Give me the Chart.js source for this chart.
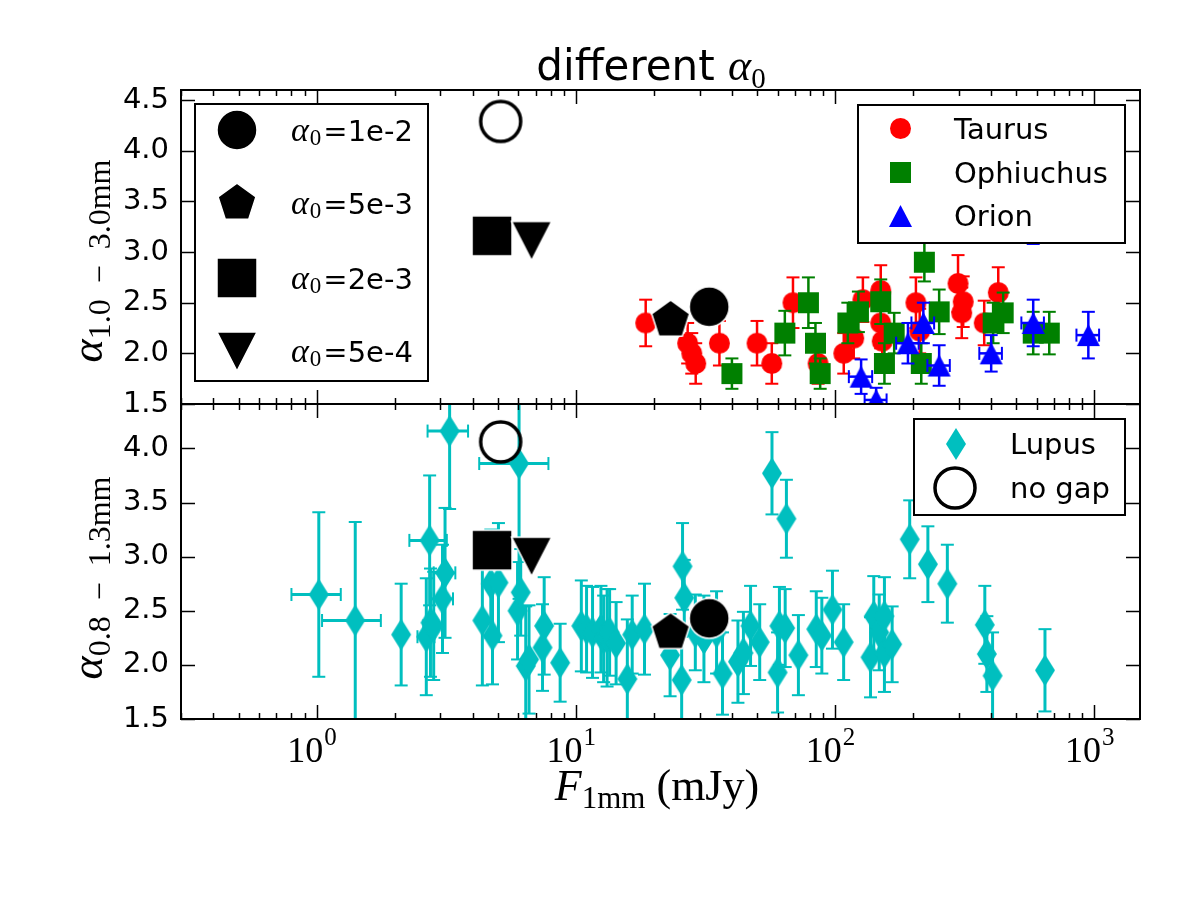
<!DOCTYPE html>
<html>
<head>
<meta charset="utf-8">
<script src="https://cdn.jsdelivr.net/npm/chart.js@4.4.1/dist/chart.umd.min.js"></script>
<style>
html,body{margin:0;padding:0;background:#fff;}
#wrap{position:relative;width:1200px;height:900px;overflow:hidden;background:#fff;}
canvas{position:absolute;left:0;top:0;}
.txt{position:absolute;color:#000;white-space:nowrap;line-height:1;}
.serif{font-family:"Liberation Serif","DejaVu Serif",serif;}
.it{font-style:italic;}
.sub{position:relative;}
</style>
</head>
<body>
<div id="wrap">
<canvas id="bottomPanel" width="1200" height="900"></canvas>
<canvas id="topPanel" width="1200" height="900"></canvas>
<div class="txt" id="title" style="left:651px;top:44px;transform:translateX(-50%);font-family:'DejaVu Sans';font-size:42px;">different <span class="serif it" style="font-size:44px;">α</span><span class="serif sub" style="font-size:29px;top:8px;">0</span></div>
<div class="txt serif" id="ylabTop" style="left:88px;top:261px;transform:translate(-50%,-50%) rotate(-90deg);font-size:44px;"><span class="it">α</span><span class="sub" style="font-size:32px;top:8px;">1.0&#8194;−&#8194;3.0mm</span></div>
<div class="txt serif" id="ylabBot" style="left:88px;top:578px;transform:translate(-50%,-50%) rotate(-90deg);font-size:44px;"><span class="it">α</span><span class="sub" style="font-size:32px;top:8px;">0.8&#8194;−&#8194;1.3mm</span></div>
<div class="txt serif" id="xlab" style="left:657px;top:764px;transform:translateX(-50%);font-size:44px;"><span class="it">F</span><span class="sub" style="font-size:31px;top:8px;">1mm</span> (mJy)</div>
</div>
<script>
// ---------------- data ----------------
const xTickValues = [1, 10, 100, 1000];
const xTickExponents = ['0', '1', '2', '3'];
const yTicksTop = [1.5, 2.0, 2.5, 3.0, 3.5, 4.0, 4.5];
const yTicksBottom = [1.5, 2.0, 2.5, 3.0, 3.5, 4.0];

const seriesNamesTop = ['Taurus', 'Ophiuchus', 'Orion'];
const seriesNamesBottom = ['Lupus', 'no gap'];

const taurusFlux  = [18.6, 27.0, 28.0, 29.0, 35.8, 50.0, 57.0, 68.8, 86.0, 108, 118, 128, 150, 150, 152, 205, 212, 298, 312, 308, 376, 426];
const taurusAlpha = [2.30, 2.10, 2.00, 1.90, 2.10, 2.10, 1.90, 2.50, 1.90, 2.00, 2.15, 2.53, 2.62, 2.30, 2.12, 2.50, 2.22, 2.69, 2.51, 2.40, 2.30, 2.60];
const taurusAlphaErr = [0.23, 0.20, 0.20, 0.20, 0.22, 0.22, 0.20, 0.25, 0.20, 0.20, 0.20, 0.22, 0.25, 0.25, 0.22, 0.25, 0.22, 0.28, 0.25, 0.25, 0.22, 0.25];

const ophFlux  = [40.0, 64.0, 78.9, 84.0, 87.6, 112, 123, 150, 169, 155, 221, 252, 215, 407, 445, 581, 670];
const ophAlpha = [1.80, 2.20, 2.50, 2.10, 1.80, 2.30, 2.41, 2.51, 2.20, 1.90, 2.90, 2.41, 1.90, 2.30, 2.40, 2.20, 2.20];
const ophAlphaErr = [0.15, 0.22, 0.25, 0.20, 0.15, 0.20, 0.20, 0.22, 0.20, 0.20, 0.19, 0.22, 0.20, 0.20, 0.20, 0.21, 0.21];

const orionFlux  = [126, 144, 191, 219, 252, 400, 581, 948, 581];
const orionAlpha = [1.77, 1.54, 2.10, 2.30, 1.88, 2.00, 2.30, 2.18, 3.28];
const orionFluxErr = [13, 14, 19, 22, 25, 40, 58, 95, 58];
const orionAlphaErr = [0.17, 0.12, 0.20, 0.20, 0.20, 0.18, 0.23, 0.23, 0.20];

const lupusFlux = [1.02, 1.41, 2.12, 2.65, 2.75, 2.73, 2.83, 3.06, 3.13, 3.26,
  4.36, 4.70, 4.77, 5.03, 6.04, 5.96, 6.13, 6.41, 6.60, 7.44,
  7.55, 8.70, 10.5, 11.0, 11.6, 12.5, 12.8, 13.2, 13.5, 14.3,
  15.8, 16.5, 18.4, 23.1, 25.8, 26.2, 25.6, 28.9, 31.2, 34.9,
  36.8, 42.2, 44.3, 47.2, 51.2, 57.1, 60.0, 61.0, 64.9, 64.2,
  72.2, 84.6, 88.9, 97.7, 107.9, 137, 141, 148, 155, 155,
  166, 194, 228, 271, 378, 385, 405, 645];
const lupusAlpha = [2.65, 2.41, 2.28, 2.26, 2.39, 3.15, 2.36, 2.61, 2.85, 4.16,
  2.41, 2.75, 2.27, 2.76, 3.86, 2.50, 2.67, 1.99, 2.05, 2.16,
  2.36, 2.02, 2.36, 2.33, 2.30, 2.33, 2.24, 2.25, 2.30, 2.20,
  1.87, 2.28, 2.33, 2.09, 2.91, 2.62, 1.86, 2.30, 2.24, 2.30,
  1.92, 2.03, 2.11, 2.36, 2.21, 3.77, 1.93, 2.36, 3.35, 2.34,
  2.09, 2.33, 2.27, 2.51, 2.21, 2.07, 2.45, 2.30, 2.45, 2.11,
  2.19, 3.16, 2.93, 2.75, 2.37, 2.10, 1.90, 1.95];
const lupusFluxErr = [0.22, 0.36, 0, 0.20, 0, 0.45, 0.25, 0.30, 0.30, 0.58,
  0, 0, 0, 0, 1.8, 0, 0, 0, 0, 0,
  0, 0, 0, 0, 0, 0, 0, 0, 0, 0,
  0, 0, 0, 0, 0, 0, 0, 0, 0, 0,
  0, 0, 0, 0, 0, 0, 0, 0, 0, 0,
  0, 0, 0, 0, 0, 0, 0, 0, 0, 0,
  0, 0, 0, 0, 0, 0, 0, 0];
const lupusAlphaErr = [0.76, 0.91, 0.47, 0.54, 0.50, 0.60, 0.50, 0.50, 0.60, 0.72,
  0.60, 0.50, 0.45, 0.55, 1.25, 0.45, 0.40, 0.55, 0.50, 0.40,
  0.45, 0.36, 0.42, 0.40, 0.42, 0.40, 0.40, 0.45, 0.40, 0.38,
  0.55, 0.36, 0.42, 0.38, 0.40, 0.35, 0.40, 0.35, 0.40, 0.38,
  0.38, 0.38, 0.38, 0.37, 0.35, 0.38, 0.37, 0.36, 0.36, 0.36,
  0.37, 0.35, 0.35, 0.36, 0.35, 0.37, 0.37, 0.35, 0.36, 0.36,
  0.35, 0.36, 0.35, 0.36, 0.36, 0.35, 0.40, 0.38];

const modelAlpha0Labels = ['1e-2', '5e-3', '2e-3', '5e-4'];
const modelFlux = [32.7, 23.2, 4.75, 6.75];
const modelAlphaTop = [2.46, 2.33, 3.16, 3.11];
const modelAlphaBottom = [2.43, 2.30, 3.06, 3.00];

const noGapFlux = [5.13];
const noGapAlphaTop = [4.29];
const noGapAlphaBottom = [4.06];

// ---------------- marker images ----------------
function marker(shape, w, h, fill, stroke, lw) {
  const pad = Math.ceil(lw || 0) + 2;
  const c = document.createElement('canvas');
  c.width = Math.round(w + 2 * pad);
  c.height = Math.round(h + 2 * pad);
  const g = c.getContext('2d');
  const cx = c.width / 2, cy = c.height / 2;
  g.beginPath();
  if (shape === 'circle') {
    g.arc(cx, cy, w / 2, 0, Math.PI * 2);
  } else if (shape === 'square') {
    g.rect(cx - w / 2, cy - h / 2, w, h);
  } else if (shape === 'triUp') {
    g.moveTo(cx, cy - h / 2); g.lineTo(cx + w / 2, cy + h / 2); g.lineTo(cx - w / 2, cy + h / 2); g.closePath();
  } else if (shape === 'triDown') {
    g.moveTo(cx, cy + h / 2); g.lineTo(cx + w / 2, cy - h / 2); g.lineTo(cx - w / 2, cy - h / 2); g.closePath();
  } else if (shape === 'thinDiamond') {
    g.moveTo(cx, cy - h / 2); g.lineTo(cx + w / 2, cy); g.lineTo(cx, cy + h / 2); g.lineTo(cx - w / 2, cy); g.closePath();
  } else if (shape === 'pentagon') {
    const R = w / (2 * Math.sin(2 * Math.PI / 5));
    for (let k = 0; k < 5; k++) {
      const a = -Math.PI / 2 + k * 2 * Math.PI / 5;
      const px = cx + R * Math.cos(a), py = cy + R * Math.sin(a);
      if (k === 0) g.moveTo(px, py); else g.lineTo(px, py);
    }
    g.closePath();
  }
  if (fill) { g.fillStyle = fill; g.fill(); }
  if (stroke && lw) { g.lineWidth = lw; g.strokeStyle = stroke; g.stroke(); }
  return c;
}

const RED = '#ff0000', GREEN = '#008000', BLUE = '#0000ff', CYAN = '#00bfbf';
const mkTaurus = marker('circle', 21, 21, RED);
const mkOph = marker('square', 21, 21, GREEN);
const mkOrion = marker('triUp', 23, 22, BLUE);
const mkLupus = marker('thinDiamond', 20, 32, CYAN);
const mkModels = [
  marker('circle', 40, 40, '#000', '#fff', 1.5),
  marker('pentagon', 38, 40, '#000', '#fff', 1.5),
  marker('square', 40, 40, '#000', '#fff', 1.5),
  marker('triDown', 40, 39, '#000', '#fff', 1.5)
];
const mkNoGap = marker('circle', 40, 40, null, '#000', 3.5);

// ---------------- plugins ----------------
function seg(ctx, x1, y1, x2, y2) { ctx.beginPath(); ctx.moveTo(x1, y1); ctx.lineTo(x2, y2); ctx.stroke(); }

const errorBarPlugin = {
  id: 'errorBars',
  beforeDatasetDraw(chart, args) {
    const ds = chart.data.datasets[args.index];
    if (!ds.errY && !ds.errX) return;
    const ctx = chart.ctx, a = chart.chartArea;
    const xs = chart.scales.x, ys = chart.scales.y;
    ctx.save();
    ctx.beginPath(); ctx.rect(a.left, a.top, a.right - a.left, a.bottom - a.top); ctx.clip();
    ctx.strokeStyle = ds.errColor;
    const cap = ds.capHalf;
    ds.data.forEach((p, i) => {
      const px = xs.getPixelForValue(p.x), py = ys.getPixelForValue(p.y);
      const ey = ds.errY ? ds.errY[i] : 0;
      if (ey) {
        const y1 = ys.getPixelForValue(p.y + ey), y2 = ys.getPixelForValue(p.y - ey);
        ctx.lineWidth = ds.errWidth; seg(ctx, px, y1, px, y2);
        ctx.lineWidth = ds.capWidth; seg(ctx, px - cap, y1, px + cap, y1); seg(ctx, px - cap, y2, px + cap, y2);
      }
      const ex = ds.errX ? ds.errX[i] : 0;
      if (ex) {
        const x1 = xs.getPixelForValue(Math.max(p.x - ex, 1e-3)), x2 = xs.getPixelForValue(p.x + ex);
        ctx.lineWidth = ds.errWidth; seg(ctx, x1, py, x2, py);
        ctx.lineWidth = ds.capWidth; seg(ctx, x1, py - cap, x1, py + cap); seg(ctx, x2, py - cap, x2, py + cap);
      }
    });
    ctx.restore();
  }
};

function drawFrame(chart) {
  const ctx = chart.ctx, a = chart.chartArea;
  const xs = chart.scales.x, ys = chart.scales.y;
  ctx.save();
  ctx.strokeStyle = '#000';
  ctx.lineWidth = 1.5;
  const lo = Math.floor(Math.log10(xs.min)), hi = Math.ceil(Math.log10(xs.max));
  for (let e = lo; e <= hi; e++) {
    for (let m = 1; m <= 9; m++) {
      const v = m * Math.pow(10, e);
      if (v < xs.min || v > xs.max) continue;
      const px = Math.round(xs.getPixelForValue(v)) + 0.5;
      const len = m === 1 ? 14 : 6;
      seg(ctx, px, a.top, px, a.top + len);
      seg(ctx, px, a.bottom, px, a.bottom - len);
    }
  }
  ys.ticks.forEach(t => {
    const py = Math.round(ys.getPixelForValue(t.value)) + 0.5;
    seg(ctx, a.left, py, a.left + 14, py);
    seg(ctx, a.right, py, a.right - 14, py);
  });
  ctx.lineWidth = 2;
  ctx.strokeRect(a.left, a.top, a.right - a.left, a.bottom - a.top);
  ctx.restore();
}

function legendBox(ctx, x1, y1, x2, y2) {
  ctx.save();
  ctx.fillStyle = '#fff';
  ctx.fillRect(x1, y1, x2 - x1, y2 - y1);
  ctx.strokeStyle = '#000'; ctx.lineWidth = 2;
  ctx.strokeRect(x1, y1, x2 - x1, y2 - y1);
  ctx.restore();
}
function putMarker(ctx, img, x, y) { ctx.drawImage(img, Math.round(x - img.width / 2), Math.round(y - img.height / 2)); }

const topDecor = {
  id: 'topDecor',
  afterDraw(chart) {
    const ctx = chart.ctx;
    drawFrame(chart);
    legendBox(ctx, 195, 104, 428, 381);
    const rowsY = [129.5, 203, 277.5, 351];
    ctx.save();
    ctx.fillStyle = '#000';
    ctx.textBaseline = 'alphabetic';
    rowsY.forEach((cy, i) => {
      putMarker(ctx, mkModels[i], 237, cy);
      let x = 291;
      ctx.font = 'italic 34px "Liberation Serif"';
      ctx.fillText('α', x, cy + 11);
      x += ctx.measureText('α').width + 1;
      ctx.font = '23px "Liberation Serif"';
      ctx.fillText('0', x, cy + 15);
      x += ctx.measureText('0').width + 2;
      ctx.font = '29px "DejaVu Sans"';
      ctx.fillText('=' + modelAlpha0Labels[i], x, cy + 11);
    });
    legendBox(ctx, 858, 105, 1125, 243);
    const mk = [mkTaurus, mkOph, mkOrion];
    [128.5, 172, 215.5].forEach((cy, i) => {
      putMarker(ctx, mk[i], 900, cy);
      ctx.font = '29px "DejaVu Sans"';
      ctx.fillText(seriesNamesTop[i], 954, cy + 10.5);
    });
    ctx.restore();
  }
};

const bottomDecor = {
  id: 'bottomDecor',
  afterDraw(chart) {
    const ctx = chart.ctx;
    drawFrame(chart);
    const xs = chart.scales.x;
    ctx.save();
    ctx.fillStyle = '#000';
    ctx.textBaseline = 'alphabetic';
    xTickValues.forEach((v, i) => {
      const px = xs.getPixelForValue(v);
      ctx.font = '36px "Liberation Serif"';
      const w1 = ctx.measureText('10').width;
      ctx.font = '25px "Liberation Serif"';
      const w2 = ctx.measureText(xTickExponents[i]).width;
      const x0 = px - (w1 + w2) / 2 - 5;
      ctx.font = '36px "Liberation Serif"';
      ctx.fillText('10', x0, 762);
      ctx.font = '25px "Liberation Serif"';
      ctx.fillText(xTickExponents[i], x0 + w1 + 1, 745);
    });
    legendBox(ctx, 914, 419, 1125, 515);
    putMarker(ctx, mkLupus, 956, 443.5);
    putMarker(ctx, mkNoGap, 955, 487.5);
    ctx.font = '29px "DejaVu Sans"';
    ctx.fillText(seriesNamesBottom[0], 1010, 453.5);
    ctx.fillText(seriesNamesBottom[1], 1010, 497.5);
    ctx.restore();
  }
};

// ---------------- charts ----------------
function pts(xa, ya) { return xa.map((x, i) => ({x: x, y: ya[i]})); }

function scalesFor(ymin, ymax, yticks) {
  return {
    x: {
      type: 'logarithmic', min: 0.3, max: 1500, display: false,
      afterBuildTicks: s => { s.ticks = xTickValues.map(v => ({value: v})); }
    },
    y: {
      type: 'linear', min: ymin, max: ymax, display: true,
      afterBuildTicks: s => { s.ticks = yticks.map(v => ({value: v})); },
      afterFit: s => { s.width = 176; },
      grid: {display: false, drawTicks: false},
      border: {display: false},
      ticks: {
        padding: 12, color: '#000', autoSkip: false,
        font: {family: 'DejaVu Sans', size: 29},
        callback: v => Number(v).toFixed(1)
      }
    }
  };
}

const common = {
  responsive: false,
  maintainAspectRatio: false,
  animation: false,
  devicePixelRatio: 1,
  events: [],
  plugins: {legend: {display: false}, tooltip: {enabled: false}, title: {display: false}}
};

new Chart(document.getElementById('topPanel'), {
  type: 'scatter',
  data: {
    datasets: [
      {label: seriesNamesTop[0], data: pts(taurusFlux, taurusAlpha), pointStyle: mkTaurus, pointRadius: 10, order: 5, clip: 0,
        errY: taurusAlphaErr, errColor: RED, errWidth: 2.5, capWidth: 2, capHalf: 6.5},
      {label: seriesNamesTop[1], data: pts(ophFlux, ophAlpha), pointStyle: mkOph, pointRadius: 10, order: 4, clip: 0,
        errY: ophAlphaErr, errColor: GREEN, errWidth: 2.5, capWidth: 2, capHalf: 6.5},
      {label: seriesNamesTop[2], data: pts(orionFlux, orionAlpha), pointStyle: mkOrion, pointRadius: 10, order: 3, clip: 0,
        errY: orionAlphaErr, errX: orionFluxErr, errColor: BLUE, errWidth: 2.5, capWidth: 2, capHalf: 6.5},
      {label: 'models', data: pts(modelFlux, modelAlphaTop), pointStyle: mkModels, pointRadius: 20, order: 1, clip: 0},
      {label: seriesNamesBottom[1], data: pts(noGapFlux, noGapAlphaTop), pointStyle: mkNoGap, pointRadius: 20, order: 1, clip: 0}
    ]
  },
  options: Object.assign({}, common, {
    layout: {padding: {left: 5, right: 60, top: 90, bottom: 496}},
    scales: scalesFor(1.5, 4.6, yTicksTop)
  }),
  plugins: [errorBarPlugin, topDecor]
});

new Chart(document.getElementById('bottomPanel'), {
  type: 'scatter',
  data: {
    datasets: [
      {label: seriesNamesBottom[0], data: pts(lupusFlux, lupusAlpha), pointStyle: mkLupus, pointRadius: 10, order: 3, clip: 0,
        errY: lupusAlphaErr, errX: lupusFluxErr, errColor: CYAN, errWidth: 3, capWidth: 2, capHalf: 6.5},
      {label: 'models', data: pts(modelFlux, modelAlphaBottom), pointStyle: mkModels, pointRadius: 20, order: 1, clip: 0},
      {label: seriesNamesBottom[1], data: pts(noGapFlux, noGapAlphaBottom), pointStyle: mkNoGap, pointRadius: 20, order: 1, clip: 0}
    ]
  },
  options: Object.assign({}, common, {
    layout: {padding: {left: 5, right: 60, top: 404, bottom: 181}},
    scales: scalesFor(1.5, 4.41, yTicksBottom)
  }),
  plugins: [errorBarPlugin, bottomDecor]
});
</script>
</body>
</html>
